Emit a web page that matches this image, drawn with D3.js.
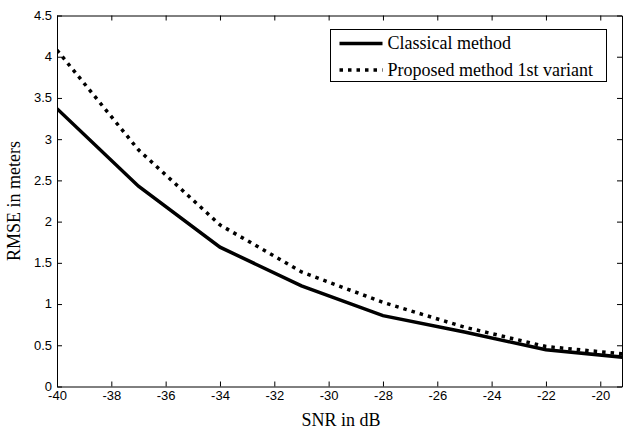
<!DOCTYPE html>
<html>
<head>
<meta charset="utf-8">
<script src="https://cdn.jsdelivr.net/npm/d3@7"></script>
<style>
body { margin:0; background:#fff; }
</style>
</head>
<body>
<div id="svgContainer"></div>
<script>
// data
var snr = [-40, -37, -34, -31, -28, -25, -22, -19];
var classical = [3.37, 2.43, 1.69, 1.22, 0.86, 0.66, 0.445, 0.35];
var proposed = [4.08, 2.87, 1.96, 1.39, 1.02, 0.72, 0.485, 0.39];
var xTicks = [-40, -38, -36, -34, -32, -30, -28, -26, -24, -22, -20];
var yTicks = [0, 0.5, 1, 1.5, 2, 2.5, 3, 3.5, 4, 4.5];
var names = ["Classical method", "Proposed method 1st variant"];

var svgWidth = 624, svgHeight = 433;
var margin = {top:15.5, left:57, right:2, bottom:46.5};
var width = svgWidth - margin.left - margin.right;
var height = svgHeight - margin.top - margin.bottom;

var svg = d3.select("#svgContainer").append("svg")
    .attr("width", svgWidth)
    .attr("height", svgHeight);

var x = d3.scaleLinear().domain([-40, -19.2]).range([margin.left, margin.left + width]);
var y = d3.scaleLinear().domain([0, 4.5]).range([margin.top + height, margin.top]);

svg.append("clipPath").attr("id", "clip")
    .append("rect")
    .attr("x", margin.left).attr("y", margin.top)
    .attr("width", width).attr("height", height);

// axes (ticks inside, box on all sides)
var tickFont = "'Liberation Sans', Arial, sans-serif";
var serif = "'Liberation Serif', 'Times New Roman', serif";
var fmt = function(d){ return String(d); };

var bottomAxis = svg.append("g")
    .attr("transform", "translate(0," + (margin.top + height) + ")")
    .call(d3.axisBottom(x).tickValues(xTicks).tickFormat(fmt).tickSizeInner(-5).tickSizeOuter(0).tickPadding(6));
var leftAxis = svg.append("g")
    .attr("transform", "translate(" + margin.left + ",0)")
    .call(d3.axisLeft(y).tickValues(yTicks).tickFormat(fmt).tickSizeInner(-5).tickSizeOuter(0).tickPadding(5));
var topAxis = svg.append("g")
    .attr("transform", "translate(0," + margin.top + ")")
    .call(d3.axisTop(x).tickValues(xTicks).tickSizeInner(-5).tickSizeOuter(0).tickFormat(""));
var rightAxis = svg.append("g")
    .attr("transform", "translate(" + (margin.left + width) + ",0)")
    .call(d3.axisRight(y).tickValues(yTicks).tickSizeInner(-5).tickSizeOuter(0).tickFormat(""));

[bottomAxis, leftAxis, topAxis, rightAxis].forEach(function(g){
    g.selectAll("path").attr("stroke", "#000").attr("stroke-width", 1);
    g.selectAll("line").attr("stroke", "#000");
    g.selectAll("text").attr("fill", "#000").style("font-family", tickFont).style("font-size", "13px");
});
bottomAxis.selectAll("text").attr("dy", "0.6em");
leftAxis.selectAll("text").attr("dy", "0.3em");

// lines
var line = function(vals){
    return d3.line()
        .x(function(d, i){ return x(snr[i]); })
        .y(function(d){ return y(d); })(vals);
};

svg.append("path")
    .attr("d", line(classical))
    .attr("clip-path", "url(#clip)")
    .attr("fill", "none")
    .attr("stroke", "#000")
    .attr("stroke-width", 3.5);

svg.append("path")
    .attr("d", line(proposed))
    .attr("clip-path", "url(#clip)")
    .attr("fill", "none")
    .attr("stroke", "#000")
    .attr("stroke-width", 3.5)
    .attr("stroke-dasharray", "3.5,5");

// axis labels
svg.append("text")
    .attr("x", 341)
    .attr("y", 426)
    .attr("text-anchor", "middle")
    .style("font-family", serif)
    .style("font-size", "18px")
    .text("SNR in dB");

svg.append("text")
    .attr("transform", "translate(20," + (margin.top + height / 2) + ") rotate(-90)")
    .attr("text-anchor", "middle")
    .style("font-family", serif)
    .style("font-size", "18px")
    .text("RMSE in meters");

// legend
var legend = svg.append("g").attr("transform", "translate(330.5,29.5)");
legend.append("rect")
    .attr("width", 276).attr("height", 52)
    .attr("fill", "#fff").attr("stroke", "#000").attr("stroke-width", 1);

var rows = legend.selectAll(".legend")
    .data(names)
    .enter().append("g")
    .attr("class", "legend")
    .attr("transform", function(d, i){ return "translate(0," + (14 + i * 26.5) + ")"; });

rows.append("line")
    .attr("x1", 9).attr("x2", 52)
    .attr("stroke", "#000").attr("stroke-width", 3.5)
    .attr("stroke-dasharray", function(d, i){ return i == 1 ? "3.5,5" : null; });

rows.append("text")
    .attr("x", 57)
    .attr("dy", "0.33em")
    .style("font-family", serif)
    .style("font-size", "18px")
    .text(function(d){ return d; });
</script>
</body>
</html>
